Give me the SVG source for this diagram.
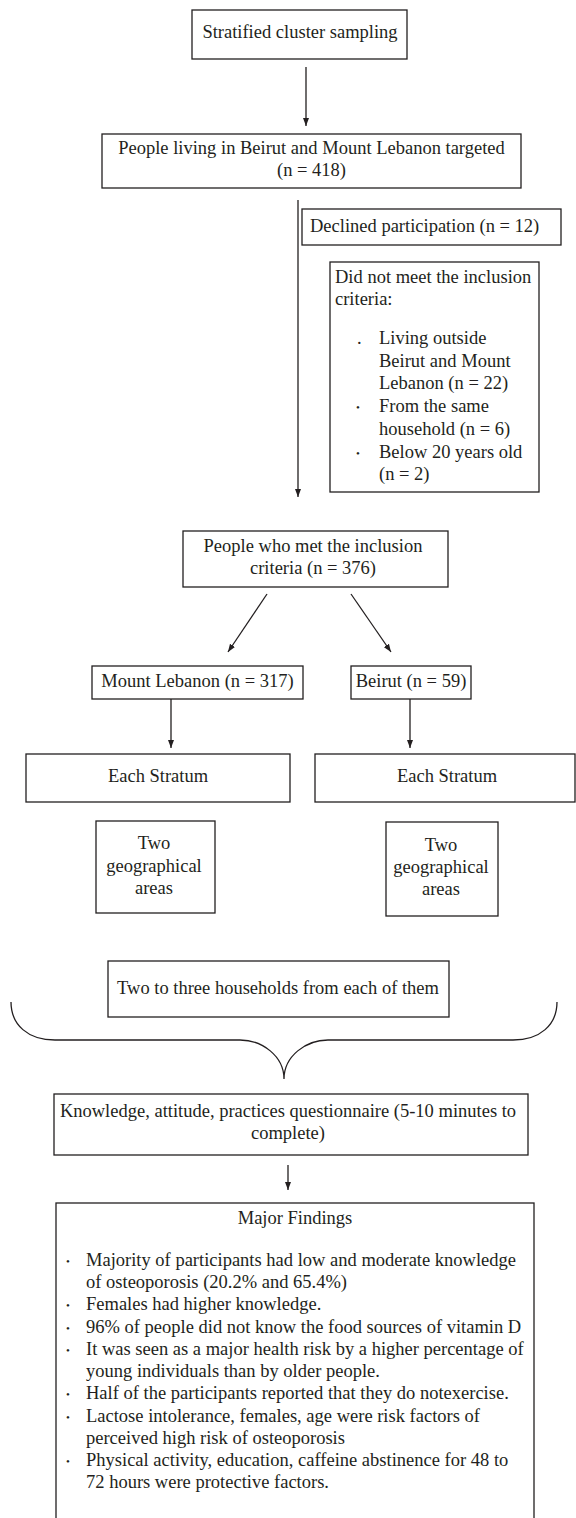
<svg xmlns="http://www.w3.org/2000/svg" width="576" height="1518" viewBox="0 0 576 1518">
<style>
.t{font-family:"Liberation Serif","Times New Roman",serif;font-size:18.5px;fill:#231f20}
.c{text-anchor:middle}
.b{fill:#fff;stroke:#231f20;stroke-width:1.3}
.l{stroke:#231f20;stroke-width:1.3;fill:none}
.bu{font-family:"Liberation Serif","Times New Roman",serif;font-size:11px;fill:#231f20}
</style>
<defs>
<marker id="ah" markerUnits="userSpaceOnUse" markerWidth="8" markerHeight="7" refX="8" refY="3.5" orient="auto">
<path d="M0,0.5 L8,3.5 L0,6.5 z" fill="#231f20"/>
</marker>
</defs>
<rect width="576" height="1518" fill="#fff"/>
<g id="connectors">
<line class="l" x1="306" y1="67" x2="306" y2="126" marker-end="url(#ah)"/>
<line class="l" x1="298" y1="200" x2="298" y2="497" marker-end="url(#ah)"/>
<line class="l" x1="267" y1="594" x2="228" y2="652" marker-end="url(#ah)"/>
<line class="l" x1="351" y1="594" x2="391" y2="652" marker-end="url(#ah)"/>
<line class="l" x1="171" y1="699" x2="171" y2="748" marker-end="url(#ah)"/>
<line class="l" x1="410" y1="699" x2="410" y2="748" marker-end="url(#ah)"/>
<line class="l" x1="288" y1="1165" x2="288" y2="1190" marker-end="url(#ah)"/>
<path class="l" d="M11,1002 C11,1025 28,1040 55,1040 L240,1040 C262,1040 284,1056 284,1079 C284,1056 306,1040 328,1040 L513,1040 C540,1040 557,1025 557,1002"/>
</g>
<g id="n1">
<rect class="b" x="192" y="10" width="215" height="49"/>
<text class="t c" x="300" y="38">Stratified cluster sampling</text>
</g>
<g id="n2">
<rect class="b" x="102" y="134" width="419" height="54"/>
<text class="t c" x="311.5" y="154">People living in Beirut and Mount Lebanon targeted</text>
<text class="t c" x="311.5" y="176">(n = 418)</text>
</g>
<g id="n3">
<rect class="b" x="302" y="209" width="259" height="36"/>
<text class="t" x="310" y="232">Declined participation (n = 12)</text>
</g>
<g id="n4">
<rect class="b" x="330" y="262" width="209" height="230"/>
<text class="t" x="335" y="283">Did not meet the inclusion</text>
<text class="t" x="335" y="305">criteria:</text>
<text class="t" x="357" y="344">.</text>
<text class="t" x="379" y="344">Living outside</text>
<text class="t" x="379" y="366.5">Beirut and Mount</text>
<text class="t" x="379" y="389">Lebanon (n = 22)</text>
<text class="bu" x="356" y="411">•</text>
<text class="t" x="379" y="412">From the same</text>
<text class="t" x="379" y="435">household (n = 6)</text>
<text class="bu" x="356" y="457">•</text>
<text class="t" x="379" y="458">Below 20 years old</text>
<text class="t" x="379" y="480">(n = 2)</text>
</g>
<g id="n5">
<rect class="b" x="183" y="531" width="265" height="56"/>
<text class="t c" x="313" y="552">People who met the inclusion</text>
<text class="t c" x="313" y="574">criteria (n = 376)</text>
</g>
<g id="n6">
<rect class="b" x="92" y="666" width="211" height="33"/>
<text class="t c" x="197.5" y="687">Mount Lebanon (n = 317)</text>
</g>
<g id="n7">
<rect class="b" x="351" y="666" width="120" height="33"/>
<text class="t c" x="411" y="687">Beirut (n = 59)</text>
</g>
<g id="n8">
<rect class="b" x="26" y="754" width="264" height="48"/>
<text class="t c" x="158" y="782">Each Stratum</text>
</g>
<g id="n9">
<rect class="b" x="315" y="754" width="260" height="48"/>
<text class="t c" x="447" y="782">Each Stratum</text>
</g>
<g id="n10">
<rect class="b" x="96" y="821" width="119" height="92"/>
<text class="t c" x="154" y="849">Two</text>
<text class="t c" x="154" y="871.5">geographical</text>
<text class="t c" x="154" y="893.5">areas</text>
</g>
<g id="n11">
<rect class="b" x="386" y="822" width="112" height="94"/>
<text class="t c" x="441" y="851">Two</text>
<text class="t c" x="441" y="873">geographical</text>
<text class="t c" x="441" y="895">areas</text>
</g>
<g id="n12">
<rect class="b" x="108" y="961" width="341" height="56"/>
<text class="t c" x="278" y="994">Two to three households from each of them</text>
</g>
<g id="n13">
<rect class="b" x="54" y="1094" width="474" height="61"/>
<text class="t c" x="288" y="1117">Knowledge, attitude, practices questionnaire (5-10 minutes to</text>
<text class="t c" x="288" y="1139">complete)</text>
</g>
<g id="n14">
<rect class="b" x="56" y="1203" width="478" height="330"/>
<text class="t c" x="295" y="1224">Major Findings</text>
<text class="bu" x="66" y="1265">•</text>
<text class="t" x="86" y="1266">Majority of participants had low and moderate knowledge</text>
<text class="t" x="86" y="1288">of osteoporosis (20.2% and 65.4%)</text>
<text class="bu" x="66" y="1309">•</text>
<text class="t" x="86" y="1310">Females had higher knowledge.</text>
<text class="bu" x="66" y="1332">•</text>
<text class="t" x="86" y="1333">96% of people did not know the food sources of vitamin D</text>
<text class="bu" x="66" y="1354">•</text>
<text class="t" x="86" y="1355">It was seen as a major health risk by a higher percentage of</text>
<text class="t" x="86" y="1377">young individuals than by older people.</text>
<text class="bu" x="66" y="1398">•</text>
<text class="t" x="86" y="1399">Half of the participants reported that they do notexercise.</text>
<text class="bu" x="66" y="1421">•</text>
<text class="t" x="86" y="1422">Lactose intolerance, females, age were risk factors of</text>
<text class="t" x="86" y="1444">perceived high risk of osteoporosis</text>
<text class="bu" x="66" y="1465">•</text>
<text class="t" x="86" y="1466">Physical activity, education, caffeine abstinence for 48 to</text>
<text class="t" x="86" y="1488">72 hours were protective factors.</text>
</g>
</svg>
